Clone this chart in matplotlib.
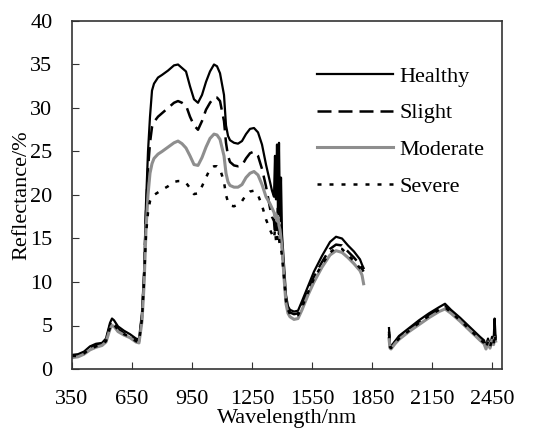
import numpy as np
import matplotlib
matplotlib.use("Agg")
import matplotlib.pyplot as plt

nan = np.nan
wavelength = [350,380,410,440,470,500,520,540,550,560,580,610,640,670,685,700,710,720,730,740,
              750,760,780,800,830,860,880,900,920,940,960,980,1000,1020,1040,1060,1075,1090,1110,1120,
              1130,1140,1160,1180,1200,1220,1240,1260,1280,1300,1320,1340,1350,1360,1365,1370,1375,1380,1385,1390,
              1395,1400,1410,1420,1430,1440,1460,1480,1500,1530,1560,1600,1640,1670,1700,1730,1760,1790,1800,1808,
              1880,1935,1940,1945,1965,1985,2035,2085,2135,2185,2215,2245,2290,2340,2390,2410,2420,2430,2440,2450,
              2458,2463,2468]

healthy = [1.6,1.7,2.0,2.6,2.9,3.0,3.5,5.3,5.8,5.6,4.9,4.4,4.0,3.5,3.4,6.5,11,19,25,29,
           32,32.8,33.5,33.8,34.3,34.9,35.0,34.6,34.2,32.5,31.0,30.6,31.5,33.0,34.2,35.0,34.8,34.0,31.5,28.0,
           26.8,26.3,26.0,25.9,26.2,27.0,27.6,27.7,27.2,25.8,23.5,21.5,20.5,19.8,24.5,19.5,25.8,18.0,26.0,17.0,
           22.0,15.5,12.0,8.5,7.2,6.8,6.6,6.7,7.8,9.5,11.2,13.0,14.6,15.2,15.0,14.2,13.5,12.6,12.0,11.6,
           nan,4.7,2.8,2.6,3.2,3.8,4.7,5.6,6.4,7.1,7.5,6.8,5.9,4.8,3.7,3.3,2.6,3.5,2.6,3.7,
           3.2,5.8,3.6]

slight = [1.6,1.6,1.9,2.4,2.7,2.9,3.3,5.0,5.5,5.3,4.6,4.1,3.8,3.3,3.2,6.0,10.5,18,23,26,
          27.8,28.4,29.0,29.4,30.0,30.6,30.8,30.6,30.3,29.0,28.0,27.5,28.5,29.8,30.6,31.2,31.2,30.8,28.5,26.0,
          24.5,23.8,23.4,23.3,23.4,24.2,24.8,25.0,24.5,23.0,21.0,18.5,17.5,17.0,15.5,17.5,16.0,18.5,15.5,16.5,
          14.5,14.0,11.0,8.0,7.0,6.5,6.3,6.4,7.3,9.0,10.6,12.3,13.8,14.3,14.2,13.5,12.8,12.0,11.5,11.2,
          nan,4.3,2.6,2.5,3.1,3.6,4.5,5.4,6.2,6.9,7.2,6.6,5.7,4.6,3.5,3.1,2.5,3.3,2.5,3.5,
          3.0,4.5,3.4]

moderate = [1.3,1.4,1.7,2.2,2.5,2.7,3.1,4.6,5.0,4.9,4.3,3.9,3.6,3.1,3.0,5.5,9.5,16,20,22.5,
            23.6,24.2,24.7,25.0,25.5,26.0,26.2,25.9,25.4,24.5,23.5,23.4,24.3,25.5,26.5,27.0,26.9,26.4,24.5,22.5,
            21.5,21.1,20.9,20.9,21.2,22.0,22.5,22.7,22.3,21.2,19.8,19.0,18.5,18.0,17.5,17.8,17.0,17.5,16.5,16.0,
            15.0,14.0,10.5,7.5,6.4,6.0,5.7,5.8,6.8,8.5,10.0,11.7,13.1,13.6,13.4,12.8,12.1,11.3,10.8,9.8,
            nan,3.5,2.4,2.3,2.9,3.4,4.3,5.1,5.9,6.6,6.9,6.4,5.5,4.4,3.3,2.9,2.3,3.1,2.4,3.3,
            2.8,3.6,3.2]

severe = [1.5,1.5,1.8,2.3,2.6,2.8,3.2,4.8,5.2,5.1,4.5,4.0,3.7,3.2,3.1,5.8,10,15.5,18,19.3,
          19.8,20.0,20.3,20.6,21.0,21.5,21.6,21.6,21.4,20.8,20.1,20.2,21.0,22.0,23.0,23.3,23.3,23.0,21.5,20.0,
          19.2,18.8,18.7,18.9,19.3,20.0,20.4,20.5,20.0,18.8,17.2,16.0,15.5,15.0,16.0,14.8,15.5,14.5,15.0,14.0,
          13.8,13.0,10.5,7.8,6.8,6.3,6.1,6.2,7.1,8.8,10.4,12.0,13.4,13.9,13.8,13.1,12.4,11.6,11.2,10.8,
          nan,4.0,2.5,2.4,3.0,3.5,4.4,5.3,6.1,6.8,7.1,6.5,5.6,4.5,3.4,3.0,2.4,3.2,2.5,3.4,
          2.9,4.0,3.3]

labels = ["Healthy", "Slight", "Moderate", "Severe"]
xticks = [350, 650, 950, 1250, 1550, 1850, 2150, 2450]
yticks = [0, 5, 10, 15, 20, 25, 30, 35, 40]

plt.rcParams['font.family'] = ['Liberation Serif', 'DejaVu Serif']
fs = 16

fig = plt.figure(figsize=(5.33, 4.32), dpi=100)
ax = fig.add_axes([72/533, 1-369/432, (502-72)/533, (369-21)/432])

ax.plot(wavelength, healthy, color='black', lw=1.6, label=labels[0])
ax.plot(wavelength, slight, color='black', lw=1.8, linestyle=(0, (5.6, 2.8)), label=labels[1])
ax.plot(wavelength, moderate, color='#8e8e8e', lw=2.2, label=labels[2])
ax.plot(wavelength, severe, color='black', lw=1.8, linestyle=(0, (1.6, 3.2)), label=labels[3])

ax.set_xlim(350, 2500)
ax.set_ylim(0, 40)
ax.set_xticks(xticks)
ax.set_yticks(yticks)
ax.tick_params(axis='both', direction='in', length=5, labelsize=fs, color='#333333')
ax.tick_params(axis='x', pad=15)
ax.tick_params(axis='y', pad=14)
for s in ax.spines.values():
    s.set_color('#333333')
    s.set_linewidth(1.2)

ax.set_xlabel("Wavelength/nm", fontsize=fs, labelpad=0)
ax.set_ylabel("Reflectance/%", fontsize=fs, labelpad=-1)

leg = ax.legend(loc='upper left', bbox_to_anchor=(317/533, 1-66/432), bbox_transform=fig.transFigure,
                frameon=False, fontsize=fs, handlelength=3.4, handletextpad=0.3,
                labelspacing=0.73, borderpad=0, borderaxespad=0)

fig.savefig("out.png", dpi=100)
